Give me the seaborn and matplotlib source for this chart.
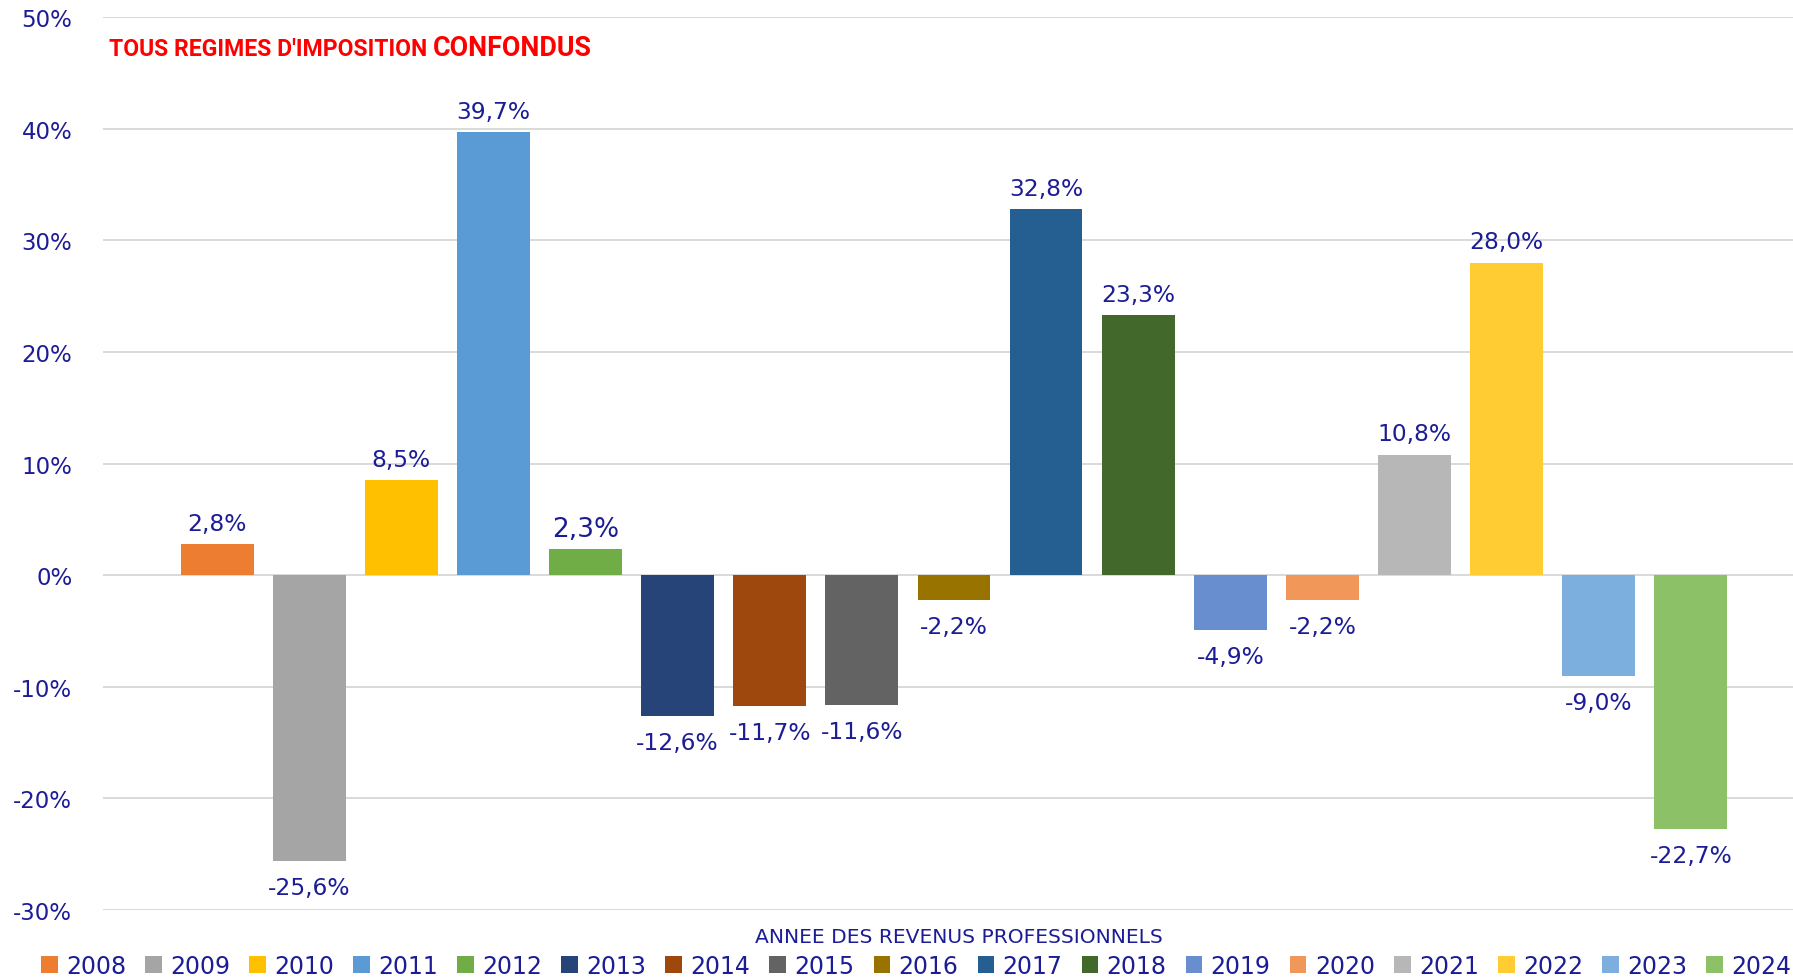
import matplotlib
matplotlib.use("Agg")
import matplotlib.pyplot as plt
from matplotlib.patches import Patch
import seaborn as sns
import pandas as pd

# data
annees = ["2008", "2009", "2010", "2011", "2012", "2013", "2014", "2015", "2016",
          "2017", "2018", "2019", "2020", "2021", "2022", "2023", "2024"]
variations = [2.8, -25.6, 8.5, 39.7, 2.3, -12.6, -11.7, -11.6, -2.2,
              32.8, 23.3, -4.9, -2.2, 10.8, 28.0, -9.0, -22.7]
couleurs = ["#ED7D31", "#A5A5A5", "#FFC000", "#5B9BD5", "#70AD47", "#264478",
            "#9E480E", "#636363", "#997300", "#255E91", "#43682B", "#698ED0",
            "#F1975A", "#B7B7B7", "#FFCD33", "#7CAFDD", "#8CC168"]
yticks = [-30, -20, -10, 0, 10, 20, 30, 40, 50]

df = pd.DataFrame({"annee": annees, "variation": variations})
palette = dict(zip(annees, couleurs))

sns.set_style("white")
plt.rcParams["font.family"] = ["DejaVu Sans"]
navy = "#1C1C96"
narrow = ["Roboto", "DejaVu Sans"]

fig = plt.figure(figsize=(17.93, 9.78), dpi=100)
ax = fig.add_axes([0.0574, 0.0685, 0.9493, 0.9131])

sns.barplot(data=df, x="annee", y="variation", hue="annee", palette=palette,
            width=0.79, saturation=1, linewidth=0, legend=False, ax=ax)

ax.set_xlim(-1.24, 17.24)
ax.set_ylim(-30, 50)
ax.set_yticks(yticks)
ax.set_yticklabels([f"{t}%" for t in yticks], color=navy, fontsize=16.5)
ax.tick_params(axis="y", length=0, pad=22)
ax.set_xticks([])
ax.set_xlabel("")
ax.set_ylabel("")
ax.yaxis.grid(True, color="#D9D9D9", lw=1.4)
ax.set_axisbelow(True)
for s in ax.spines.values():
    s.set_visible(False)

# value labels above / below each bar
for i, v in enumerate(variations):
    txt = f"{v:.1f}".replace(".", ",") + "%"
    size = 19 if annees[i] == "2012" else 16.8
    off = 15 if v >= 0 else -19.5
    ax.annotate(txt, xy=(i, v), xytext=(0, off), textcoords="offset points",
                ha="center", va="center", color=navy, fontsize=size)

# title in red
t1 = fig.text(109 / 1793, 1 - 56 / 978, "TOUS REGIMES D'IMPOSITION ", color="#FF0000",
              fontsize=16.6, fontweight="bold", family=narrow, va="baseline")
t2 = fig.text(0, 0, "CONFONDUS", color="#FF0000", fontsize=19.4, fontweight="bold",
              family=narrow, va="baseline")
fig.canvas.draw()
bb = t1.get_window_extent()
t2.set_position((bb.x1 / fig.bbox.width, 1 - 56 / 978))

fig.text(959 / 1793, 1 - 938 / 978, "ANNEE DES REVENUS PROFESSIONNELS", color=navy,
         fontsize=14.6, ha="center", va="center")

handles = [Patch(facecolor=c, edgecolor="none") for c in couleurs]
fig.legend(handles, annees, loc="center left", bbox_to_anchor=(41 / 1793, 1 - 967 / 978),
           ncol=len(annees), frameon=False, fontsize=17, labelcolor=navy,
           borderpad=0, borderaxespad=0, handlelength=0.7, handleheight=0.7,
           handletextpad=0.35, columnspacing=0.82)

fig.savefig("out.png", dpi=100)
